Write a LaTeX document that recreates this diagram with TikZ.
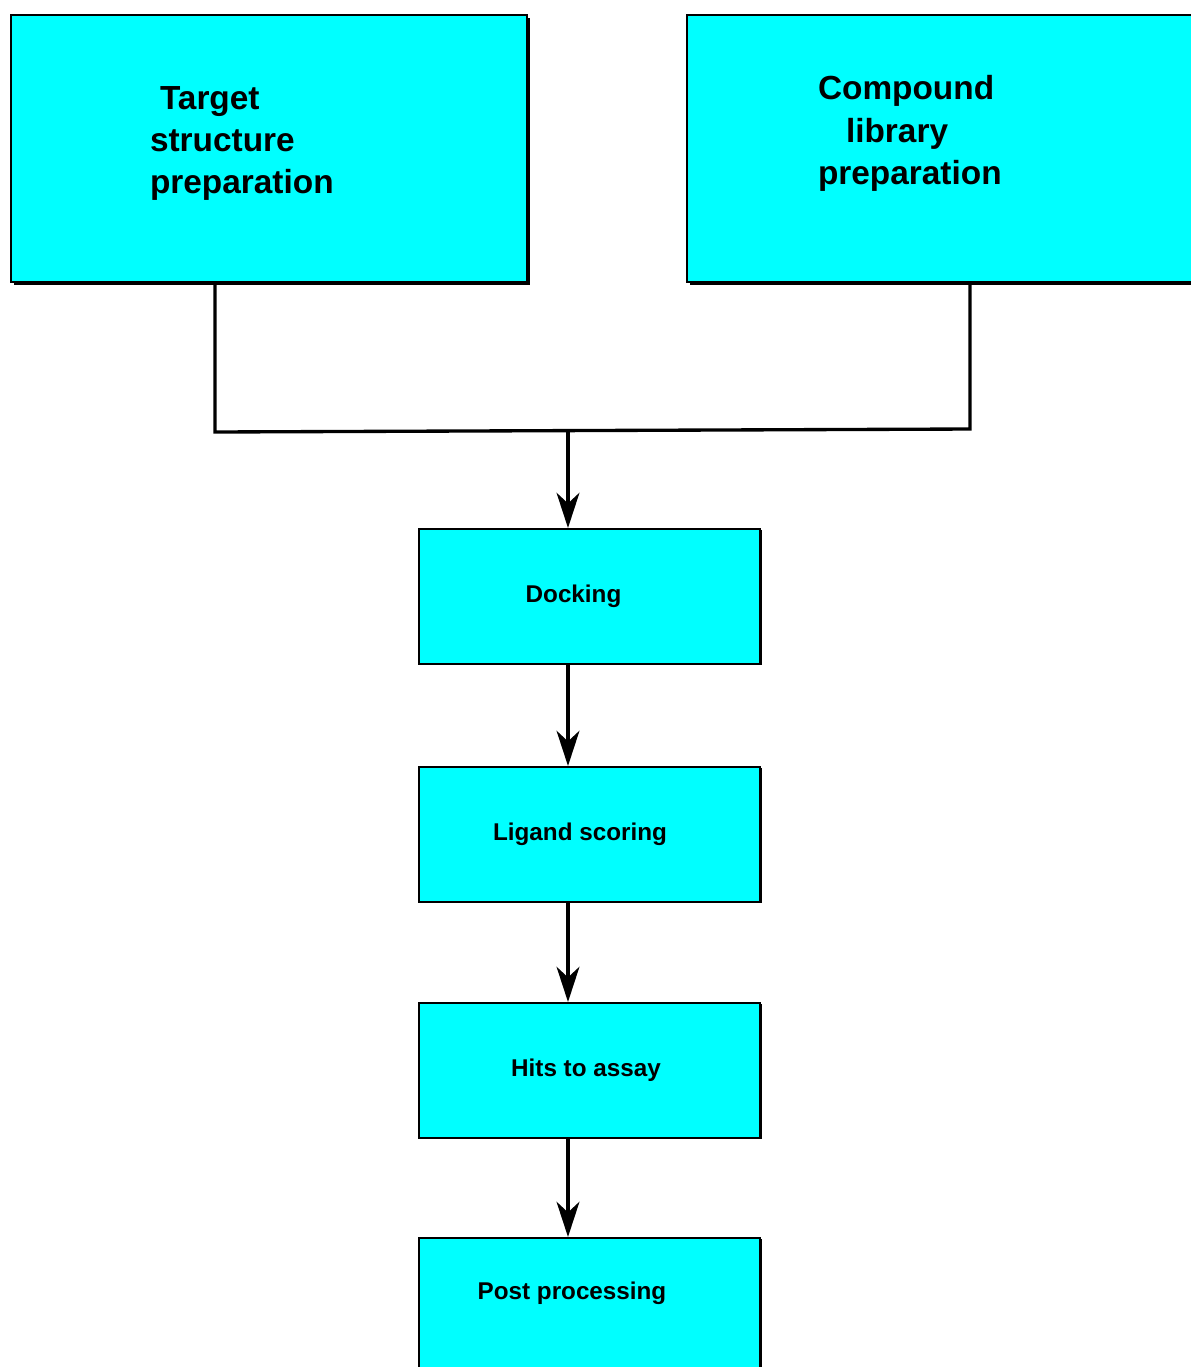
\documentclass[tikz,border=0pt]{standalone}
\usepackage{fontspec}
\setmainfont{Liberation Sans}
\usetikzlibrary{arrows.meta,shadows}
\definecolor{boxcyan}{RGB}{0,255,255}

\begin{document}
\begin{tikzpicture}[
  x=0.02cm,y=-0.02cm,
  bigbox/.style={draw,line width=1.6pt,fill=boxcyan,minimum width=10.32cm,minimum height=5.34cm,align=left,
    font=\bfseries\fontsize{19}{24}\selectfont,drop shadow={shadow xshift=1.5pt,shadow yshift=-1.8pt,fill=black,opacity=1}},
  stepbox/.style={draw,line width=1.2pt,fill=boxcyan,minimum width=6.82cm,minimum height=2.7cm,
    font=\bfseries\fontsize{13.8}{16}\selectfont,drop shadow={shadow xshift=1pt,shadow yshift=-0.8pt,fill=black,opacity=1}},
  arr/.style={-{Stealth[length=20pt,width=13pt,inset=6pt]},line width=1.9pt},
  leg/.style={line width=1.9pt}
]
\useasboundingbox (0,0) rectangle (1191,1367);

% inputs
\node[bigbox,text width=4.76cm,text depth=57.6pt] (target) at (269,148.5) {\hspace*{0.2cm}Target\\structure\\preparation};
\node[bigbox,text width=5.08cm,text depth=69pt] (library) at (945,148.5) {Compound\\\hspace*{0.56cm}library\\preparation};

% pipeline
\node[stepbox] (dock) at (589.5,596.5) {Docking\hspace*{0.64cm}};
\node[stepbox] (score) at (589.5,834.5) {Ligand scoring\hspace*{0.38cm}};
\node[stepbox] (hits) at (589.5,1070.5) {Hits to assay\hspace*{0.14cm}};
\node[stepbox,text depth=17pt] (post) at (589.5,1305.5) {Post processing\hspace*{0.7cm}};

\coordinate (lfoot) at (215,432);
\coordinate (rfoot) at (970,429);
\coordinate (join) at (568,431);

\draw[leg] (lfoot |- target.south) -- (lfoot) -- (rfoot) -- (rfoot |- library.south);
\draw[arr] (join) -- (join |- dock.north);
\draw[arr] (join |- dock.south) -- (join |- score.north);
\draw[arr] (join |- score.south) -- (join |- hits.north);
\draw[arr] (join |- hits.south) -- (join |- post.north);
\end{tikzpicture}
\end{document}
